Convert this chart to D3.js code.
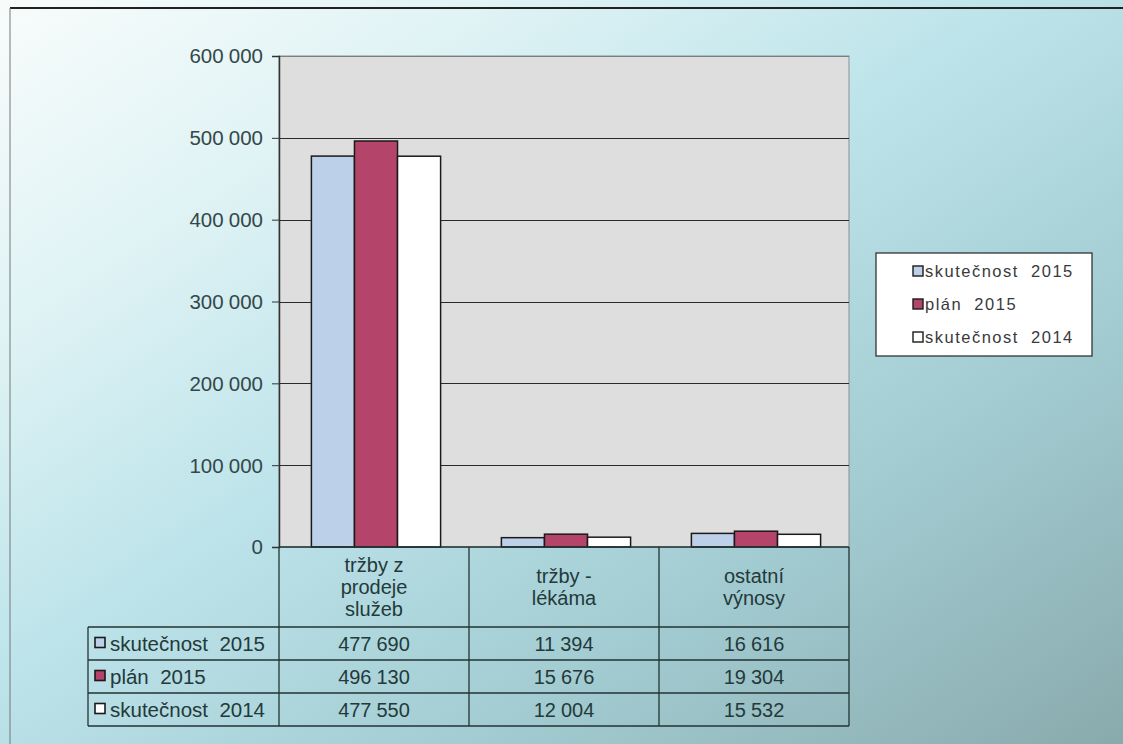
<!DOCTYPE html>
<html><head><meta charset="utf-8">
<script src="https://cdn.jsdelivr.net/npm/d3@7"></script>
<style>body{margin:0;padding:0;overflow:hidden}svg{display:block}</style>
</head><body>
<script>
const categories = [["tržby z","prodeje","služeb"],["tržby -","lékáma"],["ostatní","výnosy"]];
const seriesNames = ["skutečnost  2015","plán  2015","skutečnost  2014"];
const skutecnost2015 = [477690, 11394, 16616];
const plan2015 = [496130, 15676, 19304];
const skutecnost2014 = [477550, 12004, 15532];
const yTicks = [0,100000,200000,300000,400000,500000,600000];
const seriesValues = [skutecnost2015, plan2015, skutecnost2014];
const colors = ["#bcd0ea","#b5446a","#ffffff"];

(function(){
const W=1123,H=744;
const svg=d3.select("body").append("svg").attr("width",W).attr("height",H);
const defs=svg.append("defs");
const g1=defs.append("linearGradient").attr("id","bg").attr("x1","0").attr("y1","0").attr("x2","1").attr("y2","1");
[["0","#f8fcfb"],["0.22","#e0f3f5"],["0.45","#bde4ea"],["0.7","#a3cdd3"],["1","#89aaad"]].forEach(s=>
  g1.append("stop").attr("offset",s[0]).attr("stop-color",s[1]));
svg.append("rect").attr("width",W).attr("height",H).attr("fill","url(#bg)");
svg.append("line").attr("x1",10).attr("x2",W).attr("y1",8).attr("y2",8).attr("stroke","#222").attr("stroke-width",2);
svg.append("line").attr("x1",10).attr("x2",10).attr("y1",8).attr("y2",H).attr("stroke","#777").attr("stroke-width",1);

const pL=279,pR=849,pT=56,pB=547;
const x=d3.scaleBand().domain(d3.range(categories.length)).range([pL,pR]);
const y=d3.scaleLinear().domain([0,600000]).range([pB,pT]);
const xs=d3.scaleBand().domain(d3.range(seriesNames.length)).range([0,x.bandwidth()*0.68]).padding(0);

svg.append("rect").attr("x",pL).attr("y",pT).attr("width",pR-pL).attr("height",pB-pT)
  .attr("fill","#dddedd").attr("stroke","#8a8f90");
svg.append("g").selectAll("line").data(yTicks.filter(d=>d>0)).join("line")
  .attr("x1",pL).attr("x2",pR).attr("y1",d=>Math.round(y(d))+0.5).attr("y2",d=>Math.round(y(d))+0.5)
  .attr("stroke",(d)=>d===600000?"#7a7f80":"#2a2a2a").attr("stroke-width",1.2);

const offset=(x.bandwidth()-xs.range()[1])/2+2;
seriesValues.forEach((vals,si)=>{
  svg.append("g").selectAll("rect").data(vals).join("rect")
    .attr("x",(d,i)=>x(i)+offset+xs(si)).attr("width",xs.bandwidth())
    .attr("y",d=>y(d)).attr("height",d=>y(0)-y(d))
    .attr("fill",colors[si]).attr("stroke","#1a1a1a").attr("stroke-width",1.5);
});

const font="Liberation Sans, Arial, sans-serif", tcol="#24393a";
const fmt=d=>d3.format(",")(d).replace(/,/g,"\u2005");
const ax=svg.append("g").attr("transform",`translate(${pL},0)`)
  .call(d3.axisLeft(y).tickValues(yTicks).tickSize(7).tickPadding(9).tickFormat(fmt));
ax.select(".domain").attr("stroke","#333").attr("stroke-width",1.5);
ax.selectAll(".tick line").attr("stroke","#333");
ax.selectAll("text").attr("font-family",font).attr("font-size",20.5).attr("fill","#34484a").attr("dy","0.34em");

const tbl=svg.append("g").attr("stroke","#233").attr("fill","none").attr("stroke-width",1.3);
const rowTop=pB, headH=80, rowH=33, tLeft=88;
tbl.append("line").attr("x1",pL).attr("x2",pR).attr("y1",rowTop).attr("y2",rowTop);
d3.range(categories.length+1).forEach(i=>{
  const xx=i<categories.length?x(i):pR;
  tbl.append("line").attr("x1",xx).attr("x2",xx).attr("y1",rowTop).attr("y2",rowTop+headH+rowH*3);
});
d3.range(4).forEach(r=>{
  const yy=rowTop+headH+r*rowH;
  tbl.append("line").attr("x1",tLeft).attr("x2",pR).attr("y1",yy).attr("y2",yy);
});
tbl.append("line").attr("x1",tLeft).attr("x2",tLeft).attr("y1",rowTop+headH).attr("y2",rowTop+headH+3*rowH);

categories.forEach((lines,i)=>{
  const n=lines.length, lh=22;
  const y0=rowTop+headH/2-(n-1)*lh/2+7;
  const t=svg.append("text").attr("text-anchor","middle")
    .attr("font-family",font).attr("font-size",20).attr("fill",tcol);
  lines.forEach((l,k)=>t.append("tspan").attr("x",x(i)+x.bandwidth()/2).attr("y",y0+k*lh).text(l));
});
seriesValues.forEach((vals,si)=>{
  const yy=rowTop+headH+si*rowH+rowH/2+7;
  svg.append("rect").attr("x",tLeft+7).attr("y",yy-13).attr("width",10).attr("height",10)
    .attr("fill",colors[si]).attr("stroke","#1a1a1a").attr("stroke-width",1.6);
  svg.append("text").attr("x",tLeft+22).attr("y",yy).attr("font-family",font).attr("font-size",20.5)
    .attr("fill",tcol).style("white-space","pre").text(seriesNames[si]);
  svg.append("g").selectAll("text").data(vals).join("text")
    .attr("x",(d,i)=>x(i)+x.bandwidth()/2).attr("y",yy).attr("text-anchor","middle")
    .attr("font-family",font).attr("font-size",20).attr("fill",tcol).text(fmt);
});

const lg=svg.append("g");
lg.append("rect").attr("x",876).attr("y",253).attr("width",216).attr("height",103)
  .attr("fill","#ffffff").attr("stroke","#333").attr("stroke-width",1.3);
seriesNames.forEach((n,i)=>{
  const yy=277+i*33;
  lg.append("rect").attr("x",913).attr("y",yy-11).attr("width",10).attr("height",10)
    .attr("fill",colors[i]).attr("stroke","#1a1a1a").attr("stroke-width",1.4);
  lg.append("text").attr("x",925).attr("y",yy).attr("font-family",font).attr("font-size",16.5)
    .attr("letter-spacing",1.5).attr("fill","#3a3a3a").style("white-space","pre").text(n);
});
})();
</script>
</body></html>
